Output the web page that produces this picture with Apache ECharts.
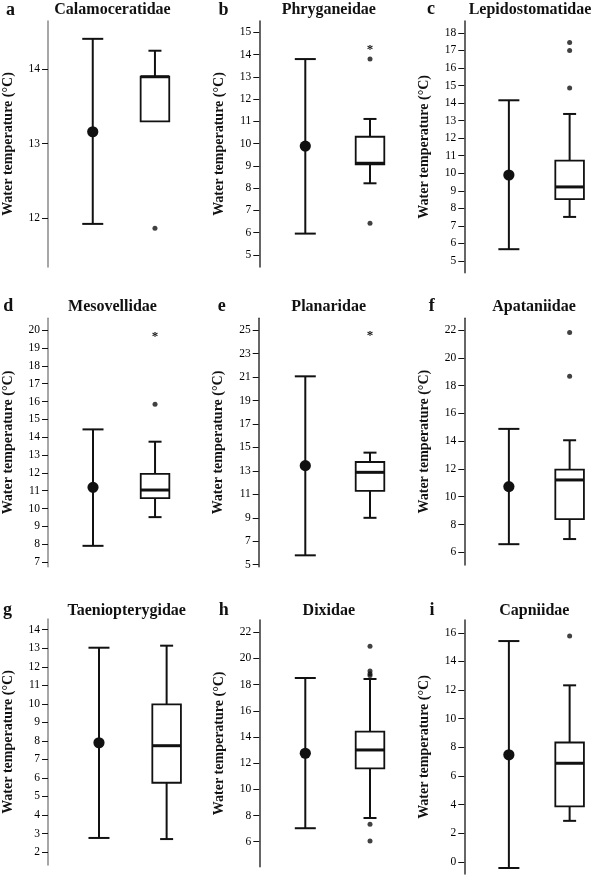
<!DOCTYPE html>
<html>
<head>
<meta charset="utf-8">
<script src="https://cdn.jsdelivr.net/npm/echarts@6/dist/echarts.min.js"></script>
<style>
html,body{margin:0;padding:0;background:#fff;}
#chart{width:600px;height:876px;}
</style>
</head>
<body>
<div id="chart"></div>
<script>
// ---------- DATA ----------
const families = ['Calamoceratidae', 'Phryganeidae', 'Lepidostomatidae', 'Mesovellidae', 'Planaridae', 'Apataniidae', 'Taeniopterygidae', 'Dixidae', 'Capniidae'];
const panelLetters = ['a', 'b', 'c', 'd', 'e', 'f', 'g', 'h', 'i'];
const categories = ['mean', 'box'];
// mean ± range (left marker)
const meanTemp = [13.16, 9.89, 9.90, 11.19, 13.45, 10.73, 7.90, 12.76, 7.48];
const rangeMin = [11.92, 5.96, 5.67, 7.91, 5.80, 6.58, 2.76, 7.03, -0.42];
const rangeMax = [14.41, 13.80, 14.16, 14.44, 21.07, 14.89, 13.03, 18.51, 15.42];
// box plot (right marker)
const whiskerLow = [13.30, 8.22, 7.51, 9.52, 9.00, 6.95, 2.70, 7.81, 2.87];
const quartile1 = [13.30, 9.07, 8.52, 10.59, 11.29, 8.38, 5.74, 11.61, 3.88];
const medianTemp = [13.90, 9.12, 9.22, 11.04, 12.88, 11.21, 7.74, 13.01, 6.89];
const quartile3 = [13.90, 10.31, 10.72, 11.94, 13.76, 11.95, 9.97, 14.41, 8.34];
const whiskerHigh = [14.25, 11.11, 13.38, 13.75, 14.56, 14.07, 13.14, 18.43, 12.33];
const outlierPoints = [[11.86], [13.80, 6.42], [17.45, 17.0, 14.86], [15.85], [], [21.83, 18.68], [], [20.93, 19.04, 18.84, 18.70, 7.33, 6.06], [15.77]];
const extremePoints = [[], [14.40], [], [19.89], [24.88], [], [], [], []];
// axes
const axisMin = [11.34, 4.46, 4.33, 6.74, 4.83, 5.08, 1.30, 4.09, -0.84];
const axisMax = [14.65, 15.51, 18.68, 20.67, 26.02, 22.86, 14.58, 22.94, 16.89];
const tickValues = [
  [12, 13, 14],
  [5, 6, 7, 8, 9, 10, 11, 12, 13, 14, 15],
  [5, 6, 7, 8, 9, 10, 11, 12, 13, 14, 15, 16, 17, 18],
  [7, 8, 9, 10, 11, 12, 13, 14, 15, 16, 17, 18, 19, 20],
  [5, 7, 9, 11, 13, 15, 17, 19, 21, 23, 25],
  [6, 8, 10, 12, 14, 16, 18, 20, 22],
  [2, 3, 4, 5, 6, 7, 8, 9, 10, 11, 12, 13, 14],
  [6, 8, 10, 12, 14, 16, 18, 20, 22],
  [0, 2, 4, 6, 8, 10, 12, 14, 16]
];
const yAxisTitle = 'Water temperature (\u00B0C)';

// ---------- LAYOUT (positions / styles) ----------
const layout = [
  {left: 56.65, width: 129.4, top: 21, height: 246, offset: 13.65, axisColor: '#8a8a8a', title: [112.5, 10], letter: [10.5, 10]},
  {left: 272.95, width: 129.4, top: 21, height: 246, offset: 13.65, axisColor: '#333', title: [328.8, 10], letter: [223.5, 10]},
  {left: 478.5, width: 129.4, top: 21, height: 251.7, offset: 14.2, axisColor: '#333', title: [530, 10], letter: [431, 9]},
  {left: 56.65, width: 129.4, top: 318.3, height: 248.4, offset: 14, axisColor: '#8a8a8a', title: [112.5, 306.7], letter: [8.3, 306.5]},
  {left: 272.95, width: 129.4, top: 318.3, height: 248.4, offset: 14.25, axisColor: '#333', title: [328.7, 307.3], letter: [221.7, 306.5]},
  {left: 478.5, width: 129.4, top: 318.3, height: 246.7, offset: 14.2, axisColor: '#333', title: [534, 307], letter: [431.7, 306.5]},
  {left: 59.85, width: 140.6, top: 619, height: 246, offset: 17.15, axisColor: '#8a8a8a', title: [126.7, 610.7], letter: [7.5, 610]},
  {left: 272.95, width: 129.4, top: 620, height: 246.7, offset: 13.65, axisColor: '#333', title: [328.8, 610.7], letter: [223.7, 610]},
  {left: 478.5, width: 129.4, top: 620, height: 254, offset: 14.2, axisColor: '#333', title: [534.3, 611], letter: [432, 610]}
];
const serif = "'Liberation Serif', 'Times New Roman', Times, serif";
const ink = '#111';

// ---------- BUILD ----------
const grids = [], xAxes = [], yAxes = [], series = [], graphics = [];

function renderMeanRange(params, api) {
  const x = api.value(0);
  const lo = api.coord([x, api.value(1)]);
  const hi = api.coord([x, api.value(2)]);
  const mu = api.coord([x, api.value(3)]);
  const capHalf = 10.5;
  const ls = {stroke: ink, lineWidth: 2};
  return {type: 'group', children: [
    {type: 'line', shape: {x1: lo[0], y1: lo[1], x2: hi[0], y2: hi[1]}, style: ls},
    {type: 'line', shape: {x1: hi[0] - capHalf, y1: hi[1], x2: hi[0] + capHalf, y2: hi[1]}, style: ls},
    {type: 'line', shape: {x1: lo[0] - capHalf, y1: lo[1], x2: lo[0] + capHalf, y2: lo[1]}, style: ls},
    {type: 'circle', shape: {cx: mu[0], cy: mu[1], r: 5.6}, style: {fill: ink}}
  ]};
}

function renderBox(params, api) {
  const x = api.value(0);
  const wl = api.coord([x, api.value(1)]);
  const q1 = api.coord([x, api.value(2)]);
  const md = api.coord([x, api.value(3)]);
  const q3 = api.coord([x, api.value(4)]);
  const wh = api.coord([x, api.value(5)]);
  const boxHalf = 14.3, capHalf = 6.5;
  const ls = {stroke: ink, lineWidth: 2};
  const ch = [];
  if (wh[1] < q3[1] - 0.5) {
    ch.push({type: 'line', shape: {x1: wh[0], y1: wh[1], x2: q3[0], y2: q3[1]}, style: ls});
    ch.push({type: 'line', shape: {x1: wh[0] - capHalf, y1: wh[1], x2: wh[0] + capHalf, y2: wh[1]}, style: ls});
  }
  if (wl[1] > q1[1] + 0.5) {
    ch.push({type: 'line', shape: {x1: q1[0], y1: q1[1], x2: wl[0], y2: wl[1]}, style: ls});
    ch.push({type: 'line', shape: {x1: wl[0] - capHalf, y1: wl[1], x2: wl[0] + capHalf, y2: wl[1]}, style: ls});
  }
  ch.push({type: 'rect', shape: {x: q3[0] - boxHalf, y: q3[1], width: boxHalf * 2, height: q1[1] - q3[1]},
           style: {fill: '#fff', stroke: ink, lineWidth: 1.8}});
  ch.push({type: 'line', shape: {x1: md[0] - boxHalf, y1: md[1], x2: md[0] + boxHalf, y2: md[1]}, style: {stroke: ink, lineWidth: 3}});
  return {type: 'group', children: ch};
}

function renderStar(params, api) {
  const p = api.coord([api.value(0), api.value(1)]);
  return {type: 'text', x: p[0], y: p[1] + 4, style: {text: '*', fill: ink, font: 'bold 13px ' + serif, align: 'center', verticalAlign: 'middle'}};
}

families.forEach((fam, i) => {
  const L = layout[i];
  grids.push({left: L.left, top: L.top, width: L.width, height: L.height, containLabel: false});
  xAxes.push({type: 'category', gridIndex: i, data: categories, boundaryGap: true, show: false});
  yAxes.push({
    type: 'value', gridIndex: i, min: axisMin[i], max: axisMax[i], offset: L.offset,
    name: yAxisTitle, nameLocation: 'middle', nameGap: 33,
    nameTextStyle: {fontFamily: serif, fontWeight: 'bold', fontSize: 14, color: ink},
    axisLine: {show: true, lineStyle: {color: L.axisColor, width: 1.5}},
    axisTick: {show: true, length: 6, inside: false, customValues: tickValues[i], lineStyle: {color: ink, width: 1}},
    axisLabel: {show: true, customValues: tickValues[i], margin: 8, fontFamily: serif, fontSize: 11.5, color: '#000'},
    splitLine: {show: false}
  });
  series.push({
    type: 'custom', xAxisIndex: i, yAxisIndex: i, renderItem: renderMeanRange,
    encode: {x: 0, y: [1, 2, 3]},
    data: [[0, rangeMin[i], rangeMax[i], meanTemp[i]]], silent: true
  });
  series.push({
    type: 'custom', xAxisIndex: i, yAxisIndex: i, renderItem: renderBox,
    encode: {x: 0, y: [1, 2, 3, 4, 5]},
    data: [[1, whiskerLow[i], quartile1[i], medianTemp[i], quartile3[i], whiskerHigh[i]]], silent: true
  });
  series.push({
    type: 'scatter', xAxisIndex: i, yAxisIndex: i, symbol: 'circle', symbolSize: 5,
    itemStyle: {color: ink}, silent: true,
    data: outlierPoints[i].map(v => [1, v])
  });
  series.push({
    type: 'custom', xAxisIndex: i, yAxisIndex: i, renderItem: renderStar,
    encode: {x: 0, y: 1}, silent: true,
    data: extremePoints[i].map(v => [1, v])
  });
  graphics.push({type: 'text', x: L.title[0], y: L.title[1],
    style: {text: fam, font: 'bold 16px ' + serif, fill: ink, align: 'center', verticalAlign: 'middle'}});
  graphics.push({type: 'text', x: L.letter[0], y: L.letter[1],
    style: {text: panelLetters[i], font: 'bold 18px ' + serif, fill: ink, align: 'center', verticalAlign: 'middle'}});
});

const chart = echarts.init(document.getElementById('chart'), null, {renderer: 'canvas'});
chart.setOption({
  animation: false,
  backgroundColor: '#fff',
  grid: grids,
  xAxis: xAxes,
  yAxis: yAxes,
  series: series,
  graphic: graphics
});
</script>
</body>
</html>
